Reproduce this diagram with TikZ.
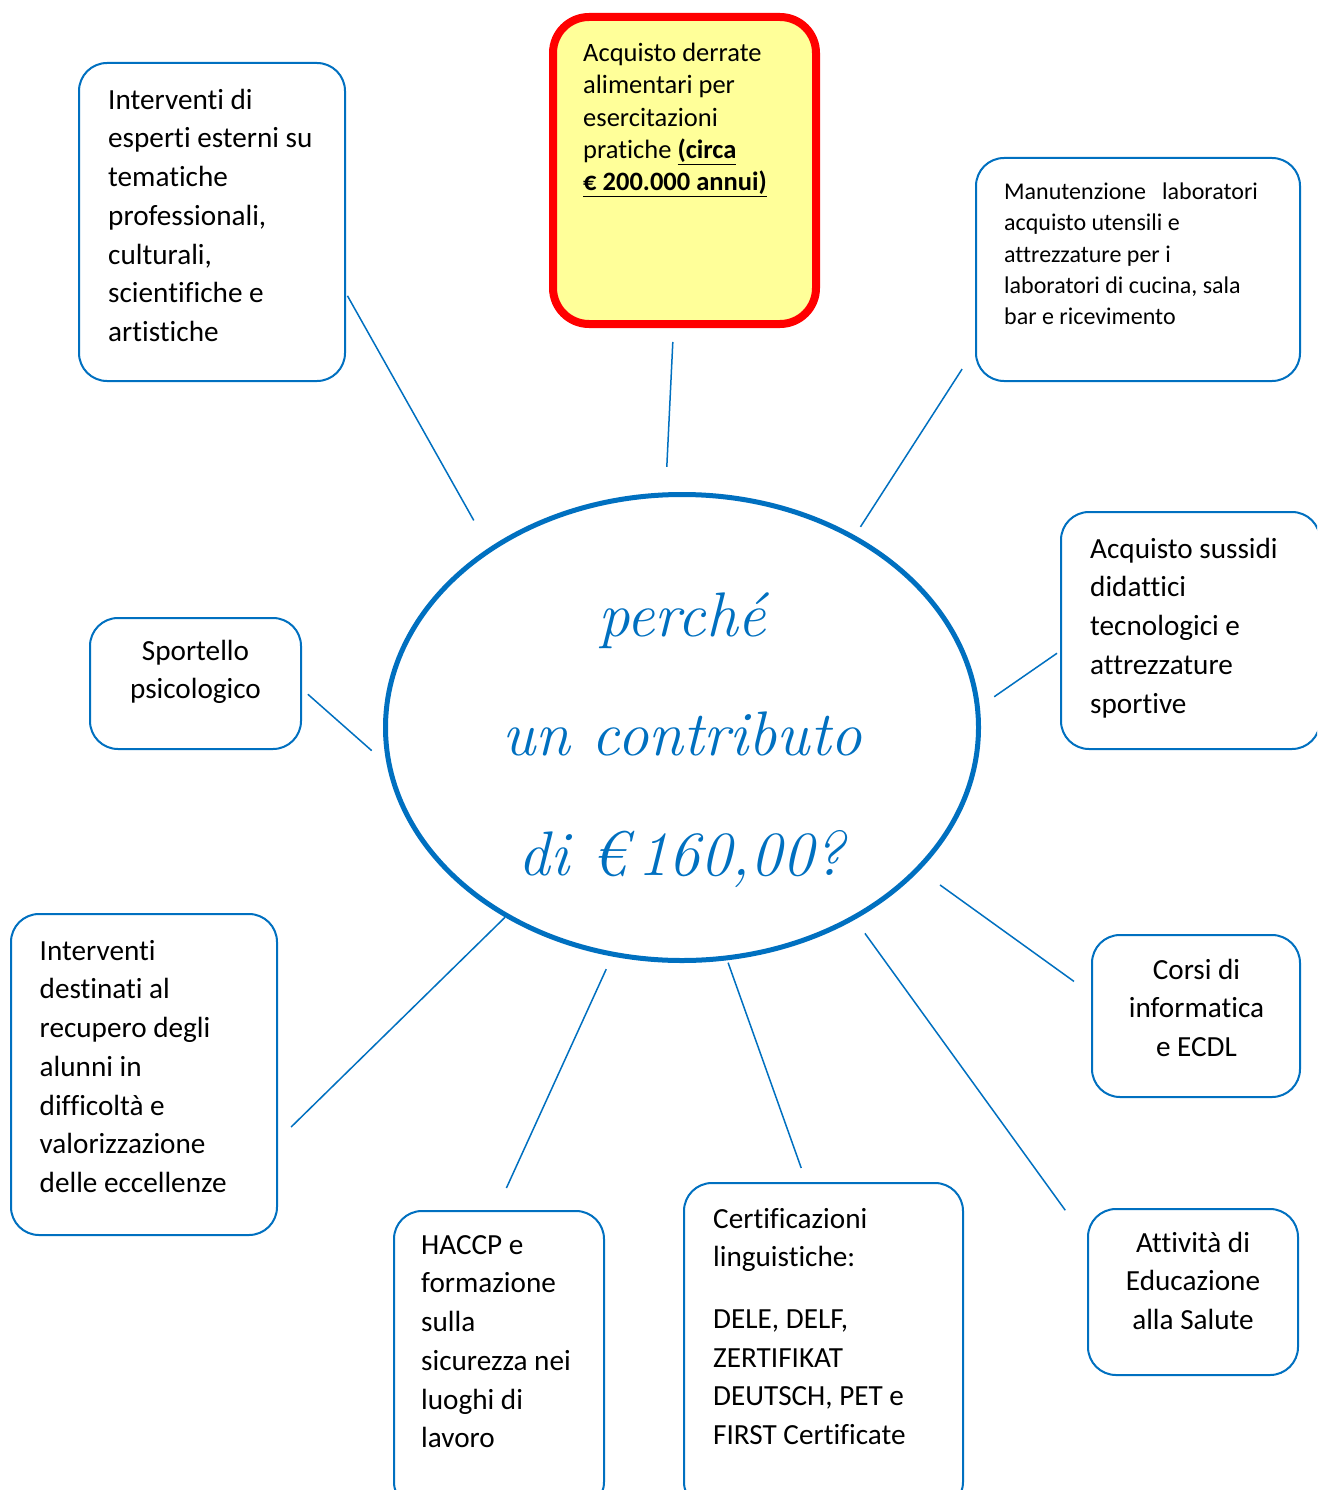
\documentclass[tikz,border=0pt]{standalone}
\usepackage{fontspec}
\newfontfamily\boxfont[Ligatures={NoCommon,NoContextual,NoRequired}]{Carlito}
\usetikzlibrary{shapes.geometric}
\definecolor{mblue}{RGB}{0,112,192}
\definecolor{myellow}{RGB}{255,255,153}
\newcommand\fls{\rule{0pt}{30pt}}
\newcommand\flsb{\rule{0pt}{60pt}}
\newcommand\bul[1]{\underline{\textbf{#1}}}
\begin{document}
\begin{tikzpicture}[x=1pt,y=-1pt,
  bbox/.style={draw=mblue, line width=2pt, rounded corners=28pt, inner sep=0pt, outer sep=1pt},
  conn/.style={draw=mblue, line width=1.5pt},
  bigL/.style={anchor=north west, inner sep=0pt, align=left, font=\boxfont\fontsize{29.2}{38.7}\selectfont},
  bigC/.style={anchor=north, inner sep=0pt, align=center, font=\boxfont\fontsize{29.2}{38.7}\selectfont},
]
\useasboundingbox (0,0) rectangle (1317,1490);
\clip (0,0) rectangle (1317,1490);
\fill[white] (0,0) rectangle (1317,1490);

% centre
\node[ellipse, draw=mblue, line width=5pt, minimum width=593pt, minimum height=466pt, inner sep=0pt] (c) at (682,727.5) {};
\node[anchor=north, inner sep=0pt, align=center, text=mblue, font=\itshape\fontsize{63}{119.5}\selectfont] (ct) at (682,576) {\flsb perché\\un contributo\\di €\,160,00?};

% boxes
\node[bbox, minimum width=266pt, minimum height=318pt] (b1) at (212,222) {};
\node[draw=red, fill=myellow, line width=8pt, rounded corners=36pt, minimum width=263pt, minimum height=307pt, inner sep=0pt] (b2) at (684.5,170.5) {};
\node[bbox, minimum width=324pt, minimum height=223pt] (b3) at (1138,269.5) {};
\node[bbox, minimum width=259pt, minimum height=237pt] (b4) at (1190.5,630.5) {};
\node[bbox, minimum width=211pt, minimum height=131pt] (b5) at (195.5,683.5) {};
\node[bbox, minimum width=266pt, minimum height=321pt] (b6) at (144,1074.5) {};
\node[bbox, minimum width=210pt, minimum height=299pt] (b7) at (499,1360.5) {};
\node[bbox, minimum width=279pt, minimum height=327pt] (b8) at (823.5,1346.5) {};
\node[bbox, minimum width=208pt, minimum height=162pt] (b9) at (1196,1016) {};
\node[bbox, minimum width=210pt, minimum height=166pt] (b10) at (1193,1292) {};

% texts
\node[bigL] (t1) at (108,79) {\fls Interventi di\\esperti esterni su\\tematiche\\professionali,\\culturali,\\scientifiche e\\artistiche};
\node[anchor=north west, inner sep=0pt, align=left, font=\boxfont\fontsize{26.5}{32.4}\selectfont] (t2) at (583,31) {\fls Acquisto derrate\\alimentari per\\esercitazioni\\pratiche \bul{(circa}\\\bul{€ 200.000 annui)}};
\node[anchor=north west, inner sep=0pt, align=left, font=\boxfont\fontsize{24}{31.4}\selectfont] (t3) at (1004,169) {\fls Manutenzione\ \ \ laboratori\\acquisto utensili e\\attrezzature per i\\laboratori di cucina, sala\\bar e ricevimento};
\node[bigL] (t4) at (1090,528) {\fls Acquisto sussidi\\didattici\\tecnologici e\\attrezzature\\sportive};
\node[bigC] (t5) at (195.5,630) {\fls Sportello\\psicologico};
\node[bigL] (t6) at (39.5,930) {\fls Interventi\\destinati al\\recupero degli\\alunni in\\difficoltà e\\valorizzazione\\delle eccellenze};
\node[bigL] (t7) at (421,1224) {\fls HACCP e\\formazione\\sulla\\sicurezza nei\\luoghi di\\lavoro};
\node[bigL] (t8) at (713,1198) {\fls Certificazioni\\linguistiche:\\[22.8pt]DELE, DELF,\\ZERTIFIKAT\\DEUTSCH, PET e\\FIRST Certificate};
\node[bigC] (t9) at (1196.5,949) {\fls Corsi di\\informatica\\e ECDL};
\node[bigC] (t10) at (1193,1222) {\fls Attività di\\Educazione\\alla Salute};

% connectors
\draw[conn, shorten <=31.2pt, shorten >=3pt] (c.137.1) -- (b1.-28.6);
\draw[conn, shorten <=25.6pt, shorten >=14pt] (c.94.2) -- (b2.-94.2);
\draw[conn, shorten <=10.2pt, shorten >=23.9pt] (c.48.4) -- (b3.-154.7);
\draw[conn, shorten <=17.5pt, shorten >=3.6pt] (c.4.7) -- (b4.-171.4);
\draw[conn, shorten <=19.8pt, shorten >=7.8pt] (c.-173.4) -- (b5.-3.5);
\draw[conn, shorten <=25pt, shorten >=21pt] (c.-31) -- (b9.168.7);
\draw[conn, shorten >=18.3pt] (c.-133.7) -- (b6.-26.7);
\draw[conn, shorten <=14pt, shorten >=24.2pt] (c.-107.3) -- (b7.91.5);
\draw[conn, shorten <=2.5pt, shorten >=14.9pt] (c.-79.8) -- (b8.96.1);
\draw[conn, shorten <=17pt, shorten >=37.1pt] (c.-48.8) -- (b10.154.5);
\end{tikzpicture}
\end{document}
